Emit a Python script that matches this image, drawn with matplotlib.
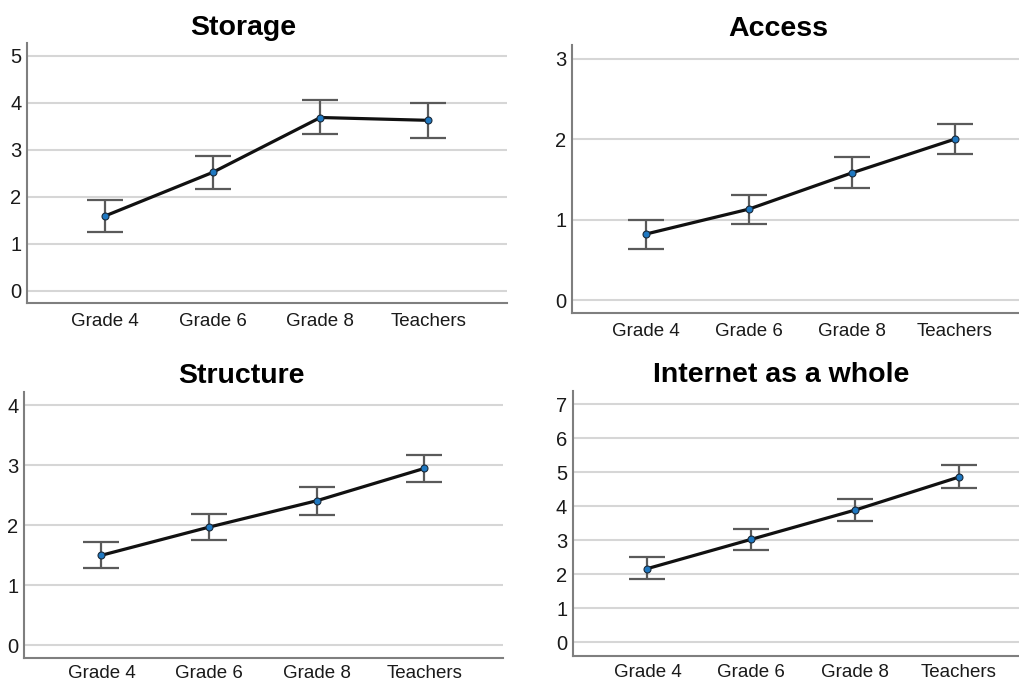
import matplotlib
matplotlib.use("Agg")
import matplotlib.pyplot as plt
import numpy as np

plt.rcParams['font.family'] = ['Liberation Sans', 'DejaVu Sans']

groups = ["Grade 4", "Grade 6", "Grade 8", "Teachers"]

storage_mean = [1.59, 2.52, 3.69, 3.63]
storage_low = [1.26, 2.17, 3.33, 3.26]
storage_high = [1.93, 2.87, 4.06, 4.00]

access_mean = [0.82, 1.13, 1.58, 2.00]
access_low = [0.64, 0.95, 1.39, 1.81]
access_high = [0.99, 1.31, 1.78, 2.19]

structure_mean = [1.50, 1.97, 2.41, 2.95]
structure_low = [1.29, 1.76, 2.18, 2.72]
structure_high = [1.72, 2.19, 2.64, 3.18]

internet_mean = [2.17, 3.03, 3.89, 4.86]
internet_low = [1.86, 2.71, 3.56, 4.53]
internet_high = [2.50, 3.34, 4.21, 5.20]

panels = [
    dict(title="Storage", mean=storage_mean, low=storage_low, high=storage_high,
         yticks=[0, 1, 2, 3, 4, 5], ylim=(-0.26, 5.27),
         rect=[0.0265, 0.5557, 0.4705, 0.3808], title_x=243, title_y=28, xpad=7),
    dict(title="Access", mean=access_mean, low=access_low, high=access_high,
         yticks=[0, 1, 2, 3], ylim=(-0.165, 3.17),
         rect=[0.5605, 0.5406, 0.4493, 0.3934], title_x=778, title_y=29, xpad=7),
    dict(title="Structure", mean=structure_mean, low=structure_low, high=structure_high,
         yticks=[0, 1, 2, 3, 4], ylim=(-0.22, 4.23),
         rect=[0.0235, 0.0347, 0.4696, 0.3910], title_x=241, title_y=376, xpad=5),
    dict(title="Internet as a whole", mean=internet_mean, low=internet_low, high=internet_high,
         yticks=[0, 1, 2, 3, 4, 5, 6, 7], ylim=(-0.39, 7.39),
         rect=[0.5615, 0.0386, 0.4529, 0.3881], title_x=781, title_y=375, xpad=6),
]

fig = plt.figure(figsize=(10.2, 6.82), dpi=100)
fig.patch.set_facecolor("white")

for p in panels:
    ax = fig.add_axes(p["rect"])
    x = np.arange(len(groups))
    mean = np.array(p["mean"])
    yerr = np.vstack([mean - np.array(p["low"]), np.array(p["high"]) - mean])

    for t in p["yticks"]:
        ax.axhline(t, color="#d6d6d6", lw=1.5, zorder=0)

    ax.errorbar(x, mean, yerr=yerr, fmt="none", ecolor="#5a5a5a", elinewidth=1.6,
                capsize=13, capthick=1.6, zorder=2)
    ax.plot(x, mean, color="#111111", lw=2.3, zorder=3)
    ax.plot(x, mean, "o", ms=5, mfc="#1f78c1", mec="#1a2a3a", mew=0.8, zorder=4)

    ax.set_xlim(-0.72, 3.73)
    ax.set_ylim(*p["ylim"])
    ax.set_xticks(x)
    ax.set_xticklabels(groups, fontsize=13.5, color="#1a1a1a")
    ax.set_yticks(p["yticks"])
    ax.set_yticklabels([str(t) for t in p["yticks"]], fontsize=14.5, color="#1a1a1a")
    ax.tick_params(axis="both", length=0)
    ax.tick_params(axis="x", pad=p["xpad"])
    ax.tick_params(axis="y", pad=4)

    for side in ("top", "right"):
        ax.spines[side].set_visible(False)
    for side in ("left", "bottom"):
        ax.spines[side].set_color("#7f7f7f")
        ax.spines[side].set_linewidth(1.5)

    fig.text(p["title_x"] / 1020, 1 - p["title_y"] / 682, p["title"], ha="center", va="center",
             fontsize=20.5, fontweight="bold", color="#000000")

fig.savefig("out.png", dpi=100, facecolor="white")
